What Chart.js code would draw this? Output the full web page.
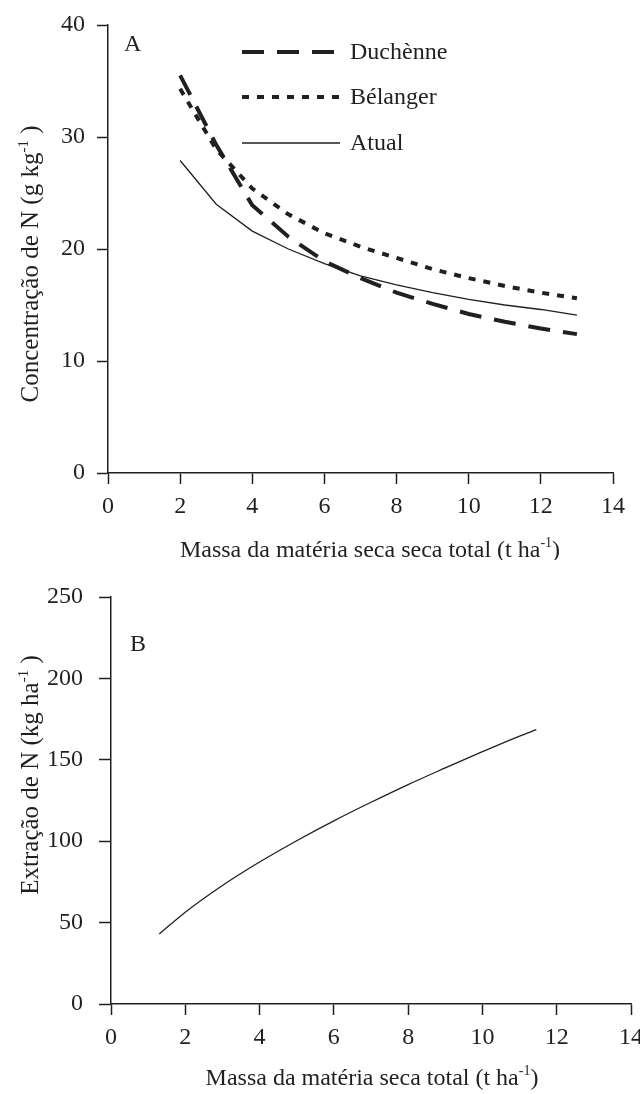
<!DOCTYPE html>
<html>
<head>
<meta charset="utf-8">
<script src="https://cdn.jsdelivr.net/npm/chart.js@4.4.0/dist/chart.umd.min.js"></script>
<style>
  html, body { margin:0; padding:0; background:#fff; }
  #wrapA { position:absolute; left:0; top:0; width:640px; height:560px; }
  #wrapB { position:absolute; left:0; top:560px; width:640px; height:534px; }
</style>
</head>
<body>
<div id="wrapA"><canvas id="chartA"></canvas></div>
<div id="wrapB"><canvas id="chartB"></canvas></div>
<script>
// panel A: N concentration vs dry mass
const massA = [2, 3, 4, 5, 6, 7, 8, 9, 10, 11, 12, 13];
const duchenne = [35.5, 29.3, 23.9, 21.1, 18.9, 17.4, 16.1, 15.1, 14.2, 13.5, 12.9, 12.4];
const belanger = [34.3, 28.9, 25.4, 23.1, 21.4, 20.2, 19.2, 18.2, 17.4, 16.7, 16.1, 15.6];
const atual = [27.9, 24.0, 21.6, 20.0, 18.7, 17.6, 16.8, 16.1, 15.5, 15.0, 14.6, 14.1];

// panel B: N extraction vs dry mass
const massB = [1.3, 2, 3, 4, 5, 6, 7, 8, 9, 10, 11, 11.45];
const extracao = [43, 56.4, 72.8, 87.2, 100.3, 112.5, 123.9, 134.8, 145, 155, 164.6, 168.5];

const xTicks = [0, 2, 4, 6, 8, 10, 12, 14];
const yTicksA = [0, 10, 20, 30, 40];
const yTicksB = [0, 50, 100, 150, 200, 250];

const FONT = '"Liberation Serif", "Times New Roman", serif';
const INK = '#231f20';
const FS = 24;

function pts(xs, ys){ return xs.map((x,i)=>({x, y: ys[i]})); }

// draws a title with a "-1" superscript part
function supText(c, parts, x, y, size){
  const big = size + 'px ' + FONT, small = Math.round(size*0.6) + 'px ' + FONT;
  let w = 0;
  parts.forEach(p=>{ c.font = p.sup ? small : big; w += c.measureText(p.t).width; });
  let cx = x - w/2;
  parts.forEach(p=>{
    c.font = p.sup ? small : big;
    c.fillText(p.t, cx, p.sup ? y - size*0.42 : y);
    cx += c.measureText(p.t).width;
  });
}

const decor = {
  id: 'decor',
  afterDraw(chart, args, o){
    const c = chart.ctx;
    c.save();
    c.fillStyle = INK;
    c.textBaseline = 'alphabetic';
    c.textAlign = 'left';
    // panel letter
    c.font = FS + 'px ' + FONT;
    c.fillText(o.letter, o.letterX, o.letterY);
    // x title
    supText(c, o.xTitle, o.xTitleX, o.xTitleY, FS);
    // y title, rotated
    c.save();
    c.translate(o.yTitleX, o.yTitleY);
    c.rotate(-Math.PI/2);
    supText(c, o.yTitle, 0, 0, o.yTitleSize);
    c.restore();
    // legend
    (o.legend || []).forEach(l=>{
      c.strokeStyle = INK;
      c.lineWidth = l.width;
      c.setLineDash(l.dash);
      c.beginPath();
      c.moveTo(242, l.y);
      c.lineTo(340, l.y);
      c.stroke();
      c.setLineDash([]);
      c.font = FS + 'px ' + FONT;
      c.textBaseline = 'middle';
      c.fillText(l.label, 350, l.y + 1);
    });
    c.restore();
  }
};

function axisX(h){
  return {
    type: 'linear', min: 0, max: 14,
    afterBuildTicks: s => { s.ticks = xTicks.map(v=>({value:v})); },
    afterFit: s => { s.height = h; s.paddingLeft = 0; s.paddingRight = 0; },
    grid: { drawOnChartArea:false, drawTicks:true, tickLength:11, tickColor:INK, tickWidth:1.5 },
    border: { color:INK, width:1.5 },
    ticks: { color:INK, font:{ family:FONT, size:FS }, padding:8, maxRotation:0 }
  };
}
function axisY(min, max, ticks, w, tl, pad){
  return {
    type: 'linear', min, max,
    afterBuildTicks: s => { s.ticks = ticks.map(v=>({value:v})); },
    afterFit: s => { s.width = w; s.paddingTop = 0; s.paddingBottom = 0; },
    grid: { drawOnChartArea:false, drawTicks:true, tickLength:tl, tickColor:INK, tickWidth:1.5 },
    border: { color:INK, width:1.5 },
    ticks: { color:INK, font:{ family:FONT, size:FS }, padding:pad }
  };
}

Chart.defaults.animation = false;
Chart.defaults.responsive = true;
Chart.defaults.maintainAspectRatio = false;

new Chart(document.getElementById('chartA'), {
  type: 'line',
  data: { datasets: [
    { label:'Duchènne', data: pts(massA, duchenne), borderColor:INK, borderWidth:4, borderDash:[22,13], pointRadius:0, tension:0 },
    { label:'Bélanger', data: pts(massA, belanger), borderColor:INK, borderWidth:4, borderDash:[7,8], pointRadius:0, tension:0 },
    { label:'Atual', data: pts(massA, atual), borderColor:INK, borderWidth:1.3, pointRadius:0, tension:0 }
  ]},
  options: {
    layout: { autoPadding:false, padding:{ left:0, top:25, right:27, bottom:0 } },
    scales: {
      x: axisX(87),
      y: axisY(0, 40, yTicksA, 108, 11, 12)
    },
    plugins: {
      legend: { display:false }, tooltip: { enabled:false },
      decor: {
        letter:'A', letterX:124, letterY:51,
        xTitle:[{t:'Massa da matéria seca seca total (t ha'},{t:'-1',sup:true},{t:')'}],
        xTitleX:370, xTitleY:557,
        yTitle:[{t:'Concentração de N (g kg'},{t:'-1',sup:true},{t:' )'}],
        yTitleX:38, yTitleY:264, yTitleSize:25,
        legend:[
          {label:'Duchènne', y:52, width:4, dash:[22,13]},
          {label:'Bélanger', y:97, width:4, dash:[7,8]},
          {label:'Atual', y:143, width:1.5, dash:[]}
        ]
      }
    }
  },
  plugins: [decor]
});

new Chart(document.getElementById('chartB'), {
  type: 'line',
  data: { datasets: [
    { label:'Extração', data: pts(massB, extracao), borderColor:INK, borderWidth:1.3, pointRadius:0, cubicInterpolationMode:'monotone' }
  ]},
  options: {
    layout: { autoPadding:false, padding:{ left:0, top:37, right:9, bottom:0 } },
    scales: {
      x: axisX(90),
      y: axisY(0, 250, yTicksB, 111, 12, 16)
    },
    plugins: {
      legend: { display:false }, tooltip: { enabled:false },
      decor: {
        letter:'B', letterX:130, letterY:91,
        xTitle:[{t:'Massa da matéria seca total (t ha'},{t:'-1',sup:true},{t:')'}],
        xTitleX:372, xTitleY:525,
        yTitle:[{t:'Extração de N (kg ha'},{t:'-1',sup:true},{t:' )'}],
        yTitleX:38, yTitleY:215, yTitleSize:25
      }
    }
  },
  plugins: [decor]
});
</script>
</body>
</html>
